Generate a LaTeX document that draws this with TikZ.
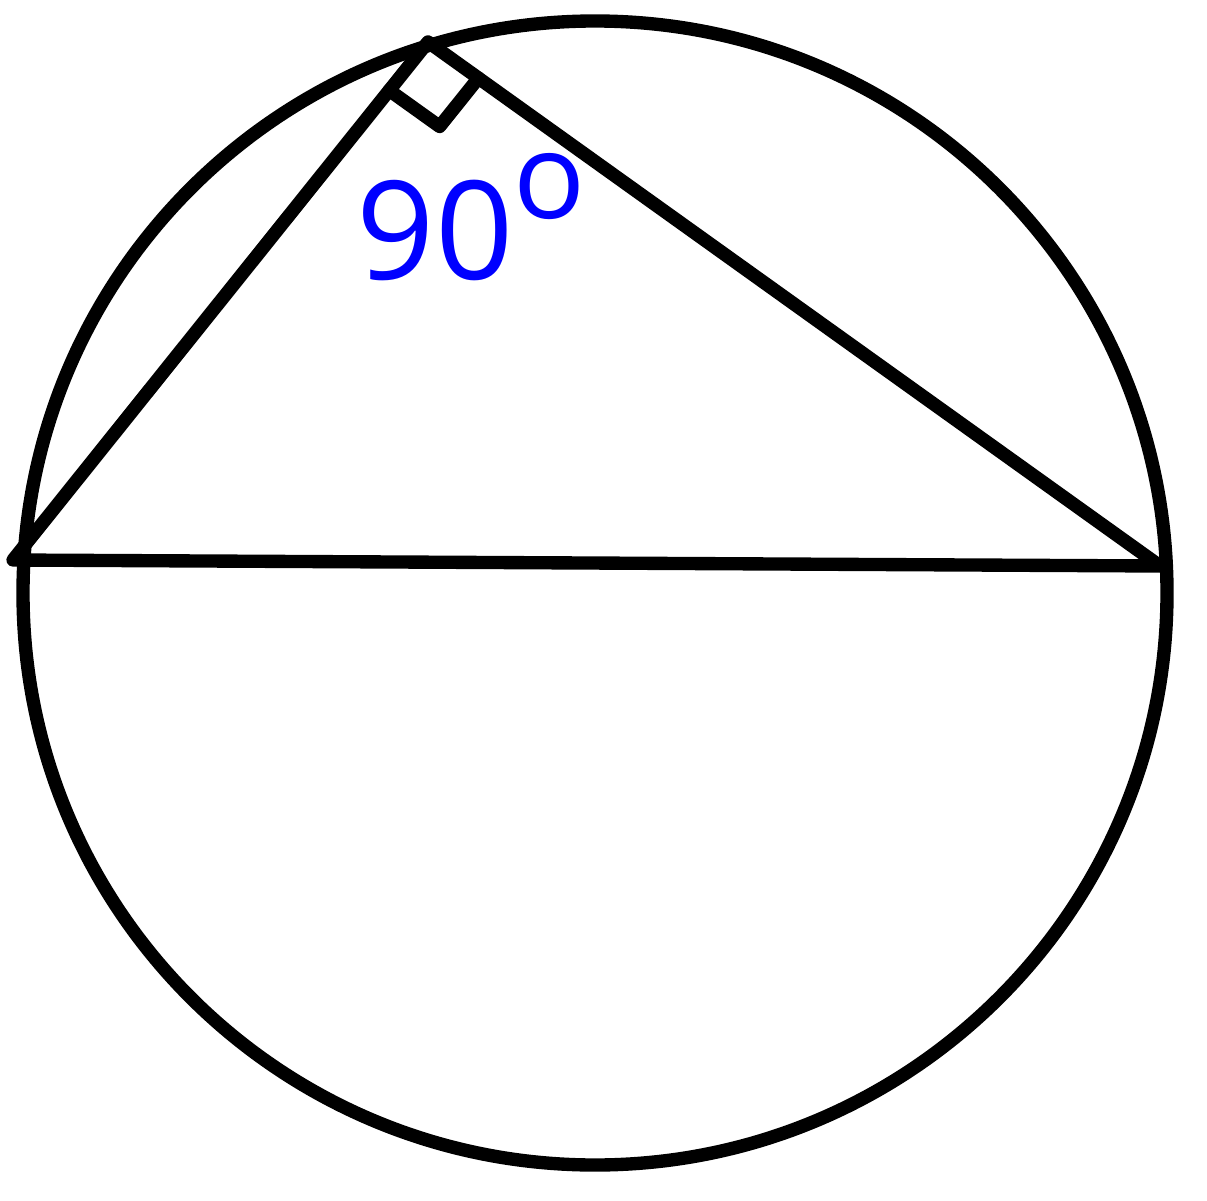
\documentclass[tikz,border=0pt]{standalone}
\usepackage{fontspec}
\setmainfont{Open Sans}
\usepackage{xcolor}
\usetikzlibrary{calc}
\usetikzlibrary{positioning}

\begin{document}
\begin{tikzpicture}[-,line width=3.8pt,line cap=round,line join=round]
	\tikzstyle{angtext}=[text=blue, inner sep=0pt, anchor=base west, font=\fontsize{39}{39}\selectfont]
	\useasboundingbox (0,0) rectangle (12.07,12.00);
	\coordinate (O) at (5.95,6.07);
	\coordinate (A) at (0.13,6.40);
	\coordinate (B) at (11.60,6.34);
	\coordinate (C) at (4.28,11.58);
	\draw (O) circle (5.72);
	\draw (A) -- (C) -- (B) -- cycle;
	% right angle at C
	\coordinate (CA) at ($(C)!0.62cm!(A)$);
	\coordinate (CB) at ($(C)!0.62cm!(B)$);
	\draw (CA) -- ($(CA)+(CB)-(C)$) -- (CB);
	\node[angtext] (ang) at (3.50,9.20) {90\raisebox{0.62cm}{\fontsize{34}{34}\selectfont o}};
\end{tikzpicture}
\end{document}
